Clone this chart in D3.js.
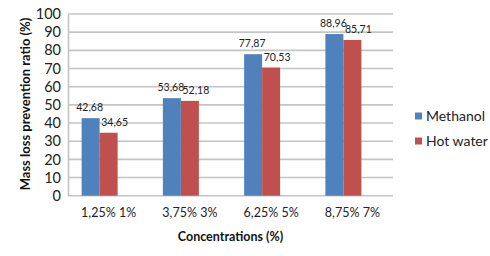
<!DOCTYPE html>
<html>
<head>
<meta charset="utf-8">
<script src="https://cdn.jsdelivr.net/npm/d3@7"></script>
<style>
  body { margin: 0; background: #fff; }
  svg { display: block; font-family: Lato, "Open Sans", sans-serif; }
</style>
</head>
<body>
<div id="chart"></div>
<script>
// chart data
const categories = ["1,25% 1%", "3,75% 3%", "6,25% 5%", "8,75% 7%"];
const methanol = [42.68, 53.68, 77.87, 88.96];
const hotWater = [34.65, 52.18, 70.53, 85.71];
const seriesNames = ["Methanol", "Hot water"];
const yTicks = [0, 10, 20, 30, 40, 50, 60, 70, 80, 90, 100];

const colors = ["#4f81bd", "#c0504d"];

var width = 490, height = 256;
var margin = {top: 14, right: 97, bottom: 60, left: 68};

var svg = d3.select("#chart")
    .append("svg")
    .attr("width", width)
    .attr("height", height);

const x = d3.scaleBand()
    .domain(categories)
    .range([margin.left, width - margin.right]);

// three slots per group, the third one is empty
const xSub = d3.scaleBand()
    .domain([0, 1, 2])
    .range([0, 54]);

const y = d3.scaleLinear()
    .domain([0, 100])
    .range([height - margin.bottom - 0.3, margin.top]);

// gridlines
svg.append("g")
    .selectAll("line")
    .data(yTicks)
    .enter().append("line")
    .attr("x1", margin.left)
    .attr("x2", width - margin.right)
    .attr("y1", d => y(d))
    .attr("y2", d => y(d))
    .style("stroke", "#c4c4c4")
    .style("stroke-width", 1.6);

// y axis
var yAxis = svg.append("g")
    .attr("transform", "translate(" + margin.left + ",0)")
    .call(d3.axisLeft(y).tickValues(yTicks).tickSize(0).tickPadding(7));
yAxis.select(".domain").style("stroke", "#c4c4c4").style("stroke-width", 1.6);
yAxis.selectAll("text")
    .attr("font-family", "Lato, sans-serif")
    .attr("font-size", "14.5px")
    .attr("fill", "#222");

// x axis
var xAxis = svg.append("g")
    .attr("transform", "translate(0," + y(0) + ")")
    .call(d3.axisBottom(x).tickSize(0).tickPadding(12));
xAxis.select(".domain").remove();
xAxis.selectAll("text")
    .attr("font-family", "Lato, sans-serif")
    .attr("font-size", "12.5px")
    .attr("fill", "#222");

// bars
const series = [methanol, hotWater];
const labelShift = [-1, 6];
series.forEach(function(vals, s){
    var g = svg.append("g");
    g.selectAll("rect")
        .data(vals)
        .enter().append("rect")
        .attr("x", (d, i) => x(categories[i]) + x.bandwidth()/2 - 27 + xSub(s))
        .attr("y", d => y(d))
        .attr("width", xSub.bandwidth())
        .attr("height", d => y(0) - y(d))
        .style("fill", colors[s]);
    g.selectAll("text")
        .data(vals)
        .enter().append("text")
        .attr("x", (d, i) => x(categories[i]) + x.bandwidth()/2 - 27 + xSub(s) + xSub.bandwidth()/2 + labelShift[s])
        .attr("y", d => y(d) - 7)
        .attr("text-anchor", "middle")
        .attr("font-size", "10.5px")
        .attr("fill", "#222")
        .text(d => d.toFixed(2).replace(".", ","));
});

// axis titles
svg.append("text")
    .attr("transform", "translate(30," + 104 + ") rotate(-90)")
    .attr("text-anchor", "middle")
    .attr("font-size", "13px")
    .attr("font-weight", "bold")
    .attr("fill", "#111")
    .text("Mass loss prevention ratio (%)");

svg.append("text")
    .attr("x", margin.left + (width - margin.right - margin.left)/2)
    .attr("y", 241)
    .attr("text-anchor", "middle")
    .attr("font-size", "12.5px")
    .attr("font-weight", "bold")
    .attr("fill", "#111")
    .text("Concentrations (%)");

// legend
var leg = svg.selectAll(".leg")
    .data(seriesNames)
    .enter().append("g")
    .attr("class", "leg")
    .attr("transform", (d, i) => "translate(415," + (116 + i*25) + ")");
leg.append("rect")
    .attr("x", 0)
    .attr("y", -3.5)
    .attr("width", 7)
    .attr("height", 7)
    .style("fill", (d, i) => colors[i]);
leg.append("text")
    .attr("x", 11)
    .attr("y", 0)
    .attr("dy", "0.35em")
    .attr("font-size", "14px")
    .attr("fill", "#222")
    .text(d => d);
</script>
</body>
</html>
